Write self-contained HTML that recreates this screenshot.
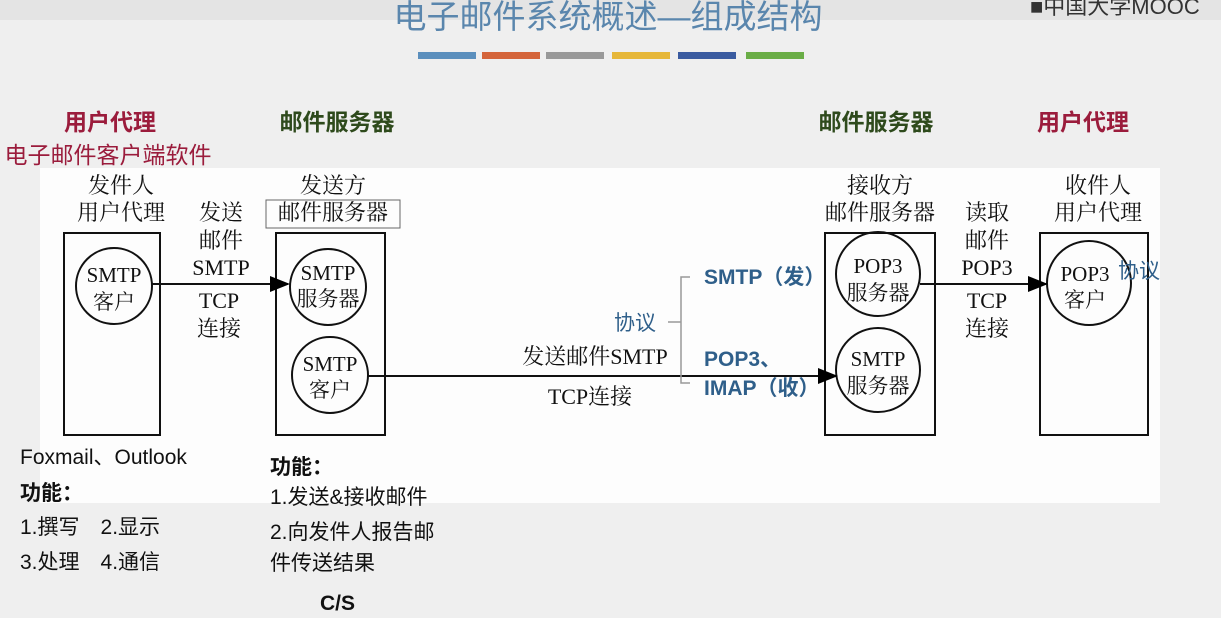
<!DOCTYPE html><html><head><meta charset="utf-8"><style>
body{margin:0;width:1221px;height:618px;background:#efefef;overflow:hidden;font-family:"Liberation Serif","Noto Serif CJK SC",serif;}
</style></head><body>
<svg width="1221" height="618" xmlns="http://www.w3.org/2000/svg" style="position:absolute;left:0;top:0">
<defs><marker id="a" markerWidth="10" markerHeight="8" refX="9" refY="4" orient="auto"><path d="M0,0 L10,4 L0,8z" fill="#000"/></marker></defs>
<rect x="0" y="0" width="1221" height="20" fill="#e4e4e4"/>
<text x="608" y="28" font-size="33" fill="#5a86ad" text-anchor="middle" font-family="Liberation Sans,Noto Sans CJK SC,sans-serif">电子邮件系统概述—组成结构</text>
<text x="1030" y="14" font-size="22" fill="#333" font-family="Liberation Sans,sans-serif">■中国大学MOOC</text>
<g><rect x="418" y="52" width="58" height="7" fill="#5b8fbd"/><rect x="482" y="52" width="58" height="7" fill="#d4643a"/><rect x="546" y="52" width="58" height="7" fill="#999"/><rect x="612" y="52" width="58" height="7" fill="#e6b739"/><rect x="678" y="52" width="58" height="7" fill="#3a5ba0"/><rect x="746" y="52" width="58" height="7" fill="#6aad46"/></g>
<rect x="40" y="168" width="1120" height="335" fill="#fdfdfd"/>
<g font-family="Liberation Sans,Noto Sans CJK SC,sans-serif" font-size="23">
<text x="110" y="130" fill="#9b1c3c" text-anchor="middle" font-weight="bold">用户代理</text>
<text x="108" y="163" fill="#9b1c3c" text-anchor="middle">电子邮件客户端软件</text>
<text x="337" y="130" fill="#2e4a1c" text-anchor="middle" font-weight="bold">邮件服务器</text>
<text x="876" y="130" fill="#2e4a1c" text-anchor="middle" font-weight="bold">邮件服务器</text>
<text x="1083" y="130" fill="#9b1c3c" text-anchor="middle" font-weight="bold">用户代理</text>
</g>
<g font-size="22" fill="#111" text-anchor="middle">
<text x="121" y="193">发件人</text><text x="121" y="220">用户代理</text>
<text x="333" y="193">发送方</text><text x="333" y="220">邮件服务器</text>
<text x="880" y="193">接收方</text><text x="880" y="220">邮件服务器</text>
<text x="1098" y="193">收件人</text><text x="1098" y="220">用户代理</text>
<text x="221" y="220">发送</text><text x="221" y="248">邮件</text><text x="221" y="275">SMTP</text><text x="219" y="308">TCP</text><text x="219" y="336">连接</text>
<text x="987" y="220">读取</text><text x="987" y="248">邮件</text><text x="987" y="275">POP3</text><text x="987" y="308">TCP</text><text x="987" y="336">连接</text>
<text x="595" y="364">发送邮件SMTP</text><text x="590" y="404">TCP连接</text>
</g>
<rect x="266" y="200" width="134" height="28" fill="none" stroke="#666" stroke-width="1"/>
<g fill="none" stroke="#111" stroke-width="2">
<rect x="64" y="233" width="96" height="202"/><rect x="276" y="233" width="109" height="202"/>
<rect x="825" y="233" width="110" height="202"/><rect x="1040" y="233" width="108" height="202"/>
<circle cx="114" cy="286" r="38"/><circle cx="328" cy="287" r="38"/><circle cx="330" cy="375" r="38"/>
<circle cx="878" cy="274" r="42"/><circle cx="878" cy="370" r="42"/><circle cx="1089" cy="283" r="42"/>
<line x1="152" y1="284" x2="288" y2="284" marker-end="url(#a)"/>
<line x1="368" y1="376" x2="836" y2="376" marker-end="url(#a)"/>
<line x1="920" y1="284" x2="1046" y2="284" marker-end="url(#a)"/>
</g>
<path d="M690,277 H681 V322 M681,322 H668 M681,322 V383 H690" fill="none" stroke="#999" stroke-width="1.5"/>
<g font-size="21" fill="#111" text-anchor="middle">
<text x="114" y="282">SMTP</text><text x="114" y="309">客户</text>
<text x="328" y="280">SMTP</text><text x="328" y="306">服务器</text>
<text x="330" y="371">SMTP</text><text x="330" y="397">客户</text>
<text x="878" y="273">POP3</text><text x="878" y="300">服务器</text>
<text x="878" y="366">SMTP</text><text x="878" y="393">服务器</text>
<text x="1085" y="281">POP3</text><text x="1085" y="307">客户</text>
</g>
<g font-family="Liberation Sans,Noto Sans CJK SC,sans-serif" fill="#2f5f8a" font-size="21">
<text x="704" y="284" font-weight="bold">SMTP（发）</text>
<text x="614" y="330">协议</text>
<text x="704" y="366" font-weight="bold">POP3、</text>
<text x="704" y="395" font-weight="bold">IMAP（收）</text>
<text x="1118" y="278">协议</text>
</g>
<g font-family="Liberation Sans,Noto Sans CJK SC,sans-serif" fill="#111" font-size="21">
<text x="20" y="464">Foxmail、Outlook</text>
<text x="20" y="500" font-weight="bold">功能：</text>
<text x="20" y="534">1.撰写　2.显示</text>
<text x="20" y="569">3.处理　4.通信</text>
<text x="270" y="474" font-weight="bold">功能：</text>
<text x="270" y="504">1.发送&amp;接收邮件</text>
<text x="270" y="539">2.向发件人报告邮</text>
<text x="270" y="570">件传送结果</text>
<text x="320" y="610" font-weight="bold">C/S</text>
</g>
</svg>
</body></html>
